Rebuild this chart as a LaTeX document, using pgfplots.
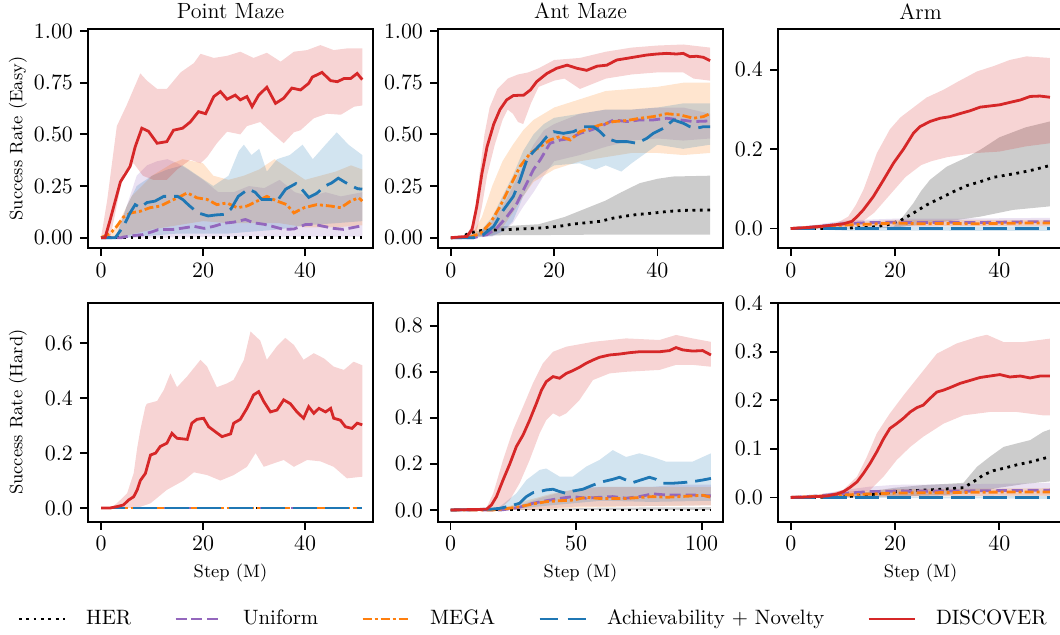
\documentclass[border=0pt]{standalone}
\usepackage{pgfplots}
\pgfplotsset{compat=1.18}
\definecolor{cred}{RGB}{214,39,40}
\definecolor{cblue}{RGB}{31,119,180}
\definecolor{corange}{RGB}{255,127,14}
\definecolor{cpurple}{RGB}{148,103,189}
\pgfplotsset{
  panel/.style={
    scale only axis, width=142.5pt, height=109.5pt,
    anchor=south west,
    axis line style={line width=1pt},
    tick style={black, line width=0.9pt},
    major tick length=4pt,
    tick align=outside,
    xtick pos=bottom, ytick pos=left,
    minor tick num=0,
    every axis title shift=0pt,
    title style={yshift=1.4pt, font=\fontsize{11}{13}\selectfont},
    tick label style={font=\fontsize{11}{13}\selectfont},
    label style={font=\fontsize{9}{11}\selectfont},
    xlabel style={at={(axis description cs:0.5,-0.160)}, anchor=north},
    ylabel style={at={(axis description cs:-0.19,0.5)}, anchor=south},
  },
  yp2/.style={yticklabel style={/pgf/number format/.cd, fixed, fixed zerofill, precision=2}},
  yp1/.style={yticklabel style={/pgf/number format/.cd, fixed, fixed zerofill, precision=1}},
  herline/.style={black, line width=1.4pt, line cap=butt, dash pattern=on 1.4pt off 2.3pt},
  uniline/.style={cpurple, line width=1.4pt, dash pattern=on 5.5pt off 2.4pt},
  megaline/.style={corange, line width=1.4pt, dash pattern=on 4.5pt off 1.5pt on 1.5pt off 1.5pt},
  anline/.style={cblue, line width=1.4pt, dash pattern=on 12pt off 4pt},
  anlegend/.style={cblue, line width=1.4pt, dash pattern=on 9pt off 5pt},
  discline/.style={cred, line width=1.4pt},
  band/.style={fill=#1, fill opacity=0.2, draw=none, forget plot},
}
\begin{document}
\begin{tikzpicture}
\useasboundingbox (0,0) rectangle (530pt,317pt);

% ---------------- Point Maze (Easy)
\begin{axis}[panel, yp2, at={(44pt,193pt)},
  title={Point Maze}, ylabel={Success Rate (Easy)},
  xmin=-2.55, xmax=53.3, ymin=-0.05, ymax=1.01,
  xtick={0,20,40}, ytick={0,0.25,0.5,0.75,1}]
\addplot[band=cpurple] coordinates {(0,0) (3,0.01) (5,0.15) (7,0.3) (9,0.35) (11,0.37) (13,0.38) (15,0.36) (17,0.33) (20,0.28) (23,0.22) (26,0.22) (29,0.25) (32,0.24) (35,0.28) (38,0.22) (41,0.2) (44,0.22) (47,0.2) (51.2,0.22)
 (51.2,0.005) (30,0.005) (10,0) (0,0)};
\addplot[band=corange] coordinates {(0,0) (2,0.02) (4,0.1) (6,0.2) (8,0.25) (10,0.3) (12,0.33) (14,0.36) (16,0.38) (18,0.37) (20,0.36) (22,0.3) (25,0.28) (28,0.3) (31,0.33) (34,0.38) (37,0.33) (40,0.28) (43,0.3) (46,0.32) (49,0.35) (51.2,0.33)
 (51.2,0.06) (46,0.05) (40,0.05) (35,0.07) (30,0.07) (25,0.07) (20,0.08) (15,0.06) (10,0.04) (5,0.01) (2,0) (0,0)};
\addplot[band=cblue] coordinates {(0,0) (3,0.01) (5,0.15) (7,0.25) (10,0.3) (13,0.33) (16,0.35) (19,0.3) (22,0.25) (25,0.3) (27,0.42) (28,0.45) (29.5,0.4) (31,0.43) (32.5,0.32) (34.5,0.38) (37,0.4) (39.5,0.45) (41.5,0.38) (44,0.45) (46.2,0.51) (48.5,0.45) (51.2,0.4)
 (51.2,0.08) (46,0.07) (40,0.06) (35,0.04) (30,0.03) (25,0.02) (20,0.02) (15,0.02) (10,0.01) (5,0) (0,0)};
\addplot[band=cred] coordinates {(0,0) (1.2,0.18) (3.1,0.54) (5,0.64) (7.7,0.795) (9,0.76) (11,0.72) (12.9,0.72) (15.6,0.8) (18.2,0.845) (19.5,0.89) (22.1,0.87) (24.7,0.88) (27.3,0.9) (29.9,0.87) (32.5,0.895) (35.2,0.852) (37.8,0.9) (40.4,0.908) (43,0.932) (45.6,0.908) (48.2,0.916) (51.2,0.916)
 (51.2,0.64) (49.6,0.634) (47,0.595) (44.3,0.6) (41.7,0.578) (39.1,0.52) (37.8,0.51) (35.8,0.457) (33.8,0.5) (31.2,0.56) (28.6,0.54) (27.3,0.5) (24.7,0.513) (22.7,0.457) (20.8,0.39) (19.5,0.36) (17.5,0.377) (14.9,0.33) (12.9,0.28) (10.2,0.28) (8.2,0.3) (6.4,0.36) (4.4,0.312) (2.8,0.12) (1.8,0) (0,0)};
\addplot[herline] coordinates {(0,0) (51.2,0)};
\addplot[uniline] coordinates {(0,0) (4,0) (4.4,0.003) (6.4,0.01) (8.2,0.015) (10.2,0.03) (11.2,0.039) (12.3,0.04) (14.2,0.04) (16.2,0.047) (18.2,0.055) (20.2,0.045) (22.1,0.055) (24.1,0.07) (26,0.075) (28.3,0.088) (29.9,0.072) (31.9,0.065) (32.8,0.06) (35.8,0.04) (37.8,0.042) (40,0.063) (41.7,0.065) (43.6,0.055) (45.6,0.045) (47.5,0.04) (49.6,0.05) (51.2,0.058)};
\addplot[megaline] coordinates {(0,0) (1.8,0.02) (3.1,0.055) (4.4,0.1) (5.9,0.12) (7.7,0.128) (9.6,0.145) (11.6,0.153) (13.6,0.177) (15.6,0.2) (16.9,0.217) (18.8,0.193) (20.8,0.185) (22.7,0.16) (24.7,0.168) (26.7,0.145) (28.6,0.153) (30.6,0.177) (32.5,0.2) (34.5,0.177) (36.4,0.16) (37.8,0.12) (39.8,0.145) (42.3,0.16) (45,0.153) (47,0.145) (48.9,0.177) (50.5,0.193) (51.2,0.177)};
\addplot[anline] coordinates {(0,0) (2.8,0) (4.4,0.055) (5.7,0.12) (6.7,0.16) (7.7,0.145) (9,0.17) (10.6,0.177) (12.3,0.2) (13.8,0.2) (15,0.2) (16,0.185) (17.3,0.155) (19,0.12) (21,0.105) (22.5,0.11) (24.3,0.113) (25.5,0.14) (26.9,0.2) (28.3,0.225) (28.9,0.235) (30.2,0.22) (31.5,0.185) (33.2,0.185) (34.5,0.177) (36.2,0.235) (38.2,0.262) (39.5,0.23) (40.7,0.195) (42.3,0.215) (43.9,0.25) (45.2,0.265) (46.5,0.288) (47.7,0.27) (49.1,0.25) (50.3,0.237) (51.2,0.235)};
\addplot[discline] coordinates {(0,0) (0.8,0) (1.8,0.087) (3.8,0.27) (5.7,0.345) (6.7,0.44) (8,0.53) (9.3,0.515) (11,0.457) (12.9,0.465) (14.2,0.52) (16,0.53) (17.5,0.56) (19.1,0.61) (20.5,0.6) (22.1,0.683) (23.4,0.707) (24.7,0.67) (26.3,0.69) (27.3,0.667) (28.6,0.683) (29.6,0.634) (30.9,0.69) (32.5,0.728) (34.2,0.65) (35.8,0.675) (37.4,0.724) (39.1,0.715) (40.7,0.747) (41.4,0.777) (43.3,0.8) (45,0.76) (46.3,0.755) (47.6,0.77) (48.9,0.77) (50.2,0.795) (51.2,0.765)};
\end{axis}

% ---------------- Ant Maze (Easy)
\begin{axis}[panel, yp2, at={(219pt,193pt)},
  title={Ant Maze},
  xmin=-2.5, xmax=52.7, ymin=-0.05, ymax=1.01,
  xtick={0,20,40}, ytick={0,0.25,0.5,0.75,1}]
\addplot[band=black] coordinates {(0,0) (3,0.01) (6,0.04) (10,0.055) (17,0.065) (22,0.1) (26,0.14) (30,0.18) (33,0.22) (36.6,0.264) (40,0.285) (43,0.296) (50.2,0.3)
 (50.2,0.015) (30,0.015) (20,0.013) (10,0.012) (5,0.008) (0,0)};
\addplot[band=cpurple] coordinates {(0,0) (4,0.005) (6,0.03) (8,0.08) (10,0.15) (12,0.25) (14,0.35) (16,0.45) (18,0.52) (20,0.55) (25,0.6) (30,0.62) (35,0.62) (40,0.63) (45,0.63) (50.2,0.6)
 (50.2,0.48) (45,0.47) (40,0.48) (35,0.47) (30,0.44) (25,0.4) (20,0.37) (18,0.3) (16,0.22) (14,0.15) (12,0.07) (10,0.03) (8,0.005) (0,0)};
\addplot[band=corange] coordinates {(0,0) (3,0.002) (4,0.01) (6,0.1) (8,0.25) (10,0.37) (12,0.45) (14,0.52) (16,0.57) (18,0.6) (20,0.63) (25,0.67) (30,0.71) (35,0.72) (40,0.73) (45,0.75) (50.2,0.75)
 (50.2,0.41) (45,0.4) (40,0.41) (35,0.41) (30,0.39) (25,0.37) (20,0.33) (18,0.3) (16,0.27) (14,0.2) (12,0.12) (10,0.05) (8,0.02) (5,0) (0,0)};
\addplot[band=cblue] coordinates {(0,0) (5,0.01) (8,0.1) (10,0.2) (12,0.3) (14,0.42) (16,0.5) (18,0.55) (20,0.58) (25,0.6) (30,0.62) (35,0.62) (40,0.63) (45,0.65) (50.2,0.65)
 (50.2,0.45) (45,0.43) (40,0.45) (35,0.36) (33,0.32) (30,0.35) (28,0.33) (25,0.36) (20,0.35) (18,0.32) (16,0.28) (14,0.2) (12,0.08) (10,0.03) (8,0.01) (5,0) (0,0)};
\addplot[band=cred] coordinates {(0,0) (3,0.01) (4.5,0.08) (5.5,0.3) (6.5,0.5) (7.5,0.63) (9,0.72) (11,0.77) (13,0.79) (15,0.8) (17,0.82) (20,0.86) (25,0.87) (30,0.9) (35,0.92) (40,0.93) (45,0.935) (50.2,0.92)
 (50.2,0.76) (47,0.77) (45,0.8) (40,0.8) (35,0.79) (30,0.77) (27,0.74) (25,0.72) (22,0.77) (20,0.76) (17,0.73) (15.5,0.65) (14,0.55) (13,0.56) (12,0.6) (11,0.62) (10,0.57) (8.5,0.45) (7,0.3) (6,0.15) (5,0.03) (3,0) (0,0)};
\addplot[herline] coordinates {(0,0) (2,0.002) (3.6,0.023) (6,0.035) (10.8,0.039) (17.3,0.047) (21,0.055) (23.7,0.066) (28.9,0.079) (31.5,0.095) (33.4,0.103) (36,0.112) (39.2,0.119) (42,0.127) (45,0.132) (50.2,0.134)};
\addplot[uniline] coordinates {(0,0) (4.4,0) (7,0.015) (8.9,0.047) (10.8,0.1) (12.8,0.167) (14.7,0.264) (16,0.33) (17.3,0.377) (19.2,0.457) (21.2,0.473) (23.1,0.48) (25,0.505) (27,0.52) (28.9,0.537) (31.5,0.57) (34.1,0.562) (36.6,0.57) (39.2,0.57) (41.8,0.578) (44.4,0.57) (47,0.562) (50.2,0.565)};
\addplot[megaline] coordinates {(0,0) (3.7,0.003) (5.7,0.02) (7.6,0.07) (9.5,0.15) (11.5,0.25) (13.4,0.345) (15.4,0.41) (17.3,0.44) (19.2,0.473) (21.2,0.49) (23.1,0.473) (25,0.513) (27,0.53) (28.9,0.546) (31.5,0.562) (34.1,0.567) (36.6,0.578) (39.2,0.586) (41.8,0.6) (44.4,0.594) (47,0.578) (48.9,0.586) (50.2,0.6)};
\addplot[anline] coordinates {(0,0) (4.4,0) (6.3,0.015) (8.3,0.055) (10.2,0.135) (12.1,0.2) (13.4,0.28) (14.7,0.377) (16,0.417) (17.3,0.45) (18.6,0.49) (19.9,0.513) (21.8,0.505) (23.7,0.513) (25.7,0.537) (27.6,0.537) (28.9,0.513) (30.2,0.48) (32.1,0.465) (34.1,0.465) (36,0.457) (37.9,0.48) (39.2,0.505) (41.2,0.53) (43.1,0.57) (45,0.554) (46.3,0.537) (47.6,0.53) (48.9,0.537) (50.2,0.537)};
\addplot[discline] coordinates {(0,0) (3.1,0.006) (4.1,0.04) (5,0.15) (6,0.31) (7,0.44) (8.3,0.55) (9.5,0.62) (10.8,0.667) (12.1,0.688) (14.1,0.69) (15.4,0.715) (16.6,0.755) (18.6,0.795) (20.5,0.82) (22.5,0.835) (24.4,0.82) (26.3,0.81) (28.3,0.83) (30.2,0.835) (32.1,0.86) (34.1,0.868) (36,0.876) (37.9,0.884) (39.9,0.889) (41.8,0.892) (43.7,0.889) (45,0.892) (46.3,0.876) (47.6,0.878) (48.9,0.873) (50.2,0.857)};
\end{axis}

% ---------------- Arm (Easy)
\begin{axis}[panel, yp1, at={(389pt,193pt)},
  title={Arm},
  xmin=-2.45, xmax=52.2, ymin=-0.049, ymax=0.503,
  xtick={0,20,40}, ytick={0,0.2,0.4}]
\addplot[band=black] coordinates {(0,0) (15,0.001) (19.7,0.005) (21.5,0.03) (23.5,0.064) (25,0.095) (26.7,0.123) (29.9,0.156) (33.8,0.18) (36.5,0.2) (40,0.23) (45,0.255) (49.7,0.27)
 (49.7,0.056) (42.6,0.047) (36.3,0.03) (29.9,0.018) (25,0.01) (20,0.003) (15,0) (0,0)};
\addplot[band=cblue] coordinates {(0,0) (10,0.005) (49.7,0.006) (49.7,-0.006) (10,-0.005) (0,0)};
\addplot[band=cpurple] coordinates {(0,0) (10,0.02) (20,0.025) (30,0.025) (40,0.026) (49.7,0.027) (49.7,0.007) (30,0.006) (10,0.004) (0,0)};
\addplot[band=corange] coordinates {(0,0) (10,0.015) (20,0.022) (49.7,0.022) (49.7,0.006) (20,0.006) (10,0.003) (0,0)};
\addplot[band=cred] coordinates {(0,0) (5,0.004) (9,0.015) (11,0.03) (12.5,0.06) (14,0.1) (16.5,0.19) (19,0.25) (21,0.28) (23,0.3) (26,0.33) (29.3,0.35) (32,0.37) (35.7,0.396) (39,0.41) (42,0.425) (45.2,0.434) (49.7,0.43)
 (49.7,0.215) (45,0.207) (40,0.194) (35,0.19) (30,0.18) (27,0.17) (25,0.16) (22,0.13) (20,0.1) (18,0.07) (16,0.04) (14,0.02) (12,0.01) (9,0.005) (5,0.002) (0,0)};
\addplot[herline] coordinates {(0,0) (10,0) (12,0.002) (15.2,0.003) (18.4,0.009) (21,0.02) (23.5,0.039) (26.1,0.06) (28.6,0.076) (31.2,0.093) (33.7,0.108) (36.3,0.118) (38.8,0.129) (41.4,0.135) (44,0.141) (46.5,0.148) (49.7,0.159)};
\addplot[uniline] coordinates {(0,0) (5,0.005) (10,0.012) (15,0.015) (20,0.016) (25,0.015) (30,0.016) (35,0.015) (40,0.016) (45,0.017) (49.7,0.017)};
\addplot[megaline] coordinates {(0,0) (5,0.004) (10,0.009) (15,0.011) (20,0.014) (25,0.012) (30,0.013) (35,0.012) (40,0.013) (45,0.014) (49.7,0.014)};
\addplot[anline] coordinates {(0,0) (49.7,0)};
\addplot[discline] coordinates {(0,0) (3.7,0.003) (6.9,0.007) (10.1,0.012) (11.7,0.018) (12.7,0.03) (13.9,0.047) (15.8,0.08) (17.8,0.123) (19.7,0.165) (21.6,0.2) (23.5,0.24) (24.8,0.257) (26.7,0.27) (28.6,0.278) (30.5,0.282) (32.5,0.29) (34.4,0.297) (36.3,0.306) (38.2,0.309) (40.1,0.312) (42,0.318) (44,0.324) (45.9,0.333) (47.8,0.334) (49.7,0.331)};
\end{axis}

% ---------------- Point Maze (Hard)
\begin{axis}[panel, yp1, at={(44pt,56.15pt)},
  xlabel={Step (M)}, ylabel={Success Rate (Hard)},
  xmin=-2.55, xmax=53.3, ymin=-0.05, ymax=0.748,
  xtick={0,20,40}, ytick={0,0.2,0.4,0.6}]
\addplot[band=cred] coordinates {(0,0) (2,0.002) (3.1,0.017) (5.1,0.053) (6.4,0.126) (7.1,0.22) (7.7,0.284) (8.7,0.37) (9,0.38) (11,0.39) (12.3,0.43) (13.6,0.49) (14.9,0.44) (16.9,0.48) (19.5,0.54) (20.8,0.515) (22.7,0.44) (24.7,0.454) (26,0.467) (28,0.54) (29.3,0.643) (31.2,0.61) (32.5,0.54) (34.5,0.59) (36.1,0.62) (37.8,0.594) (39.7,0.54) (41.7,0.564) (43.7,0.545) (45.6,0.515) (47.6,0.503) (49.5,0.533) (51.2,0.52)
 (51.2,0.114) (48.2,0.108) (45.6,0.15) (43,0.17) (40.4,0.175) (37.8,0.15) (35.8,0.175) (33.9,0.163) (31.9,0.15) (30.3,0.2) (28.6,0.15) (26,0.12) (23.4,0.1) (20.8,0.12) (18.2,0.13) (16.2,0.1) (12.9,0.066) (9.7,0.017) (7,0) (0,0)};
\addplot[herline] coordinates {(0,0) (51.2,0)};
\addplot[uniline] coordinates {(0,0) (51.2,0)};
\addplot[megaline] coordinates {(0,0) (51.2,0)};
\addplot[anline] coordinates {(0,0) (51.2,0)};
\addplot[discline] coordinates {(0,0) (1.8,0) (3.1,0.005) (4.4,0.011) (5.4,0.029) (6.4,0.041) (7.1,0.066) (7.7,0.1) (8.7,0.126) (9.7,0.193) (10.7,0.2) (11.6,0.224) (12.9,0.236) (13.9,0.272) (14.9,0.254) (16.9,0.25) (17.8,0.309) (18.8,0.323) (20.1,0.327) (21.1,0.296) (22.4,0.278) (23.7,0.26) (25.4,0.27) (26,0.309) (27.3,0.323) (28.6,0.363) (29.9,0.412) (30.9,0.424) (31.9,0.388) (33.2,0.35) (34.5,0.357) (35.8,0.394) (37.1,0.38) (38.4,0.35) (39.7,0.327) (40.7,0.369) (41.7,0.345) (42.7,0.363) (44,0.35) (45,0.363) (45.6,0.327) (46.9,0.32) (47.9,0.296) (49.2,0.29) (50.2,0.309) (51.2,0.303)};
\end{axis}

% ---------------- Ant Maze (Hard)
\begin{axis}[panel, yp1, at={(219pt,56.15pt)},
  xlabel={Step (M)},
  xmin=-5, xmax=108.5, ymin=-0.051, ymax=0.9,
  xtick={0,50,100}, ytick={0,0.2,0.4,0.6,0.8},
  legend columns=5,
  legend style={draw=none, fill=none, at={(axis description cs:0.337,-0.444)}, anchor=center,
    font=\fontsize{10.4}{12.5}\selectfont,
    /tikz/every odd column/.append style={column sep=8pt},
    /tikz/every even column/.append style={column sep=19.5pt}},
  legend cell align=left,
  legend image code/.code={\draw[#1] (0pt,0pt) -- (23pt,0pt);}]
\addlegendimage{herline}
\addlegendimage{uniline}
\addlegendimage{megaline}
\addlegendimage{anlegend}
\addlegendimage{discline}
\addplot[band=black] coordinates {(0,0) (30,0.003) (60,0.01) (103.7,0.012) (103.7,0) (0,0)};
\addplot[band=cpurple] coordinates {(0,0) (20,0.002) (25,0.01) (35,0.05) (45,0.08) (55,0.1) (65,0.1) (80,0.1) (90,0.11) (103.7,0.11) (103.7,0.02) (50,0.015) (30,0) (0,0)};
\addplot[band=corange] coordinates {(0,0) (15,0.001) (20,0.005) (30,0.04) (40,0.07) (50,0.09) (60,0.1) (70,0.1) (80,0.1) (90,0.1) (103.7,0.1) (103.7,0.02) (70,0.015) (50,0.01) (30,0) (0,0)};
\addplot[band=cblue] coordinates {(0,0) (15,0) (19.6,0.014) (26.2,0.072) (30.2,0.13) (35.5,0.174) (38.1,0.18) (43.4,0.145) (48.7,0.145) (54,0.188) (59.3,0.217) (64.6,0.26) (69.9,0.23) (75.2,0.246) (80.5,0.23) (85.8,0.21) (91.2,0.21) (96.4,0.21) (103.7,0.246)
 (103.7,0.04) (80,0.035) (60,0.04) (45,0.025) (35,0.015) (25,0.003) (15,0) (0,0)};
\addplot[band=cred] coordinates {(0,0) (14,0.002) (17,0.072) (20.9,0.217) (24.9,0.347) (28.9,0.449) (32.8,0.55) (36.8,0.637) (40.8,0.687) (46.1,0.709) (56.7,0.73) (69.9,0.745) (83.2,0.738) (89.8,0.76) (96.4,0.745) (103.7,0.73)
 (103.7,0.622) (96.4,0.63) (89.8,0.63) (83.2,0.608) (69.9,0.6) (63.3,0.593) (56.7,0.564) (51.4,0.478) (46.1,0.42) (43.4,0.405) (40.8,0.42) (38.1,0.39) (35.5,0.333) (31.5,0.217) (27.5,0.116) (23.6,0.043) (19.6,0.003) (14,0) (0,0)};
\addplot[herline] coordinates {(0,0) (103.7,0)};
\addplot[uniline] coordinates {(0,0) (20,0) (22.3,0.003) (27.5,0.012) (32.8,0.029) (38.1,0.04) (43.4,0.05) (48.7,0.058) (54,0.051) (59.3,0.055) (64.6,0.058) (69.9,0.051) (75.2,0.058) (80.5,0.07) (85.8,0.065) (91.2,0.065) (96.4,0.065) (103.7,0.061)};
\addplot[megaline] coordinates {(0,0) (17,0) (22.3,0.006) (27.5,0.014) (32.8,0.026) (38.1,0.036) (43.4,0.04) (48.7,0.043) (54,0.055) (59.3,0.05) (64.6,0.05) (69.9,0.05) (75.2,0.054) (80.5,0.058) (85.8,0.055) (91.2,0.058) (96.4,0.061) (100.4,0.064) (103.7,0.055)};
\addplot[anline] coordinates {(0,0) (15.6,0.003) (19.6,0.007) (23.6,0.017) (27.5,0.029) (30.2,0.058) (32.8,0.075) (35.5,0.08) (38.1,0.087) (40.8,0.09) (43.4,0.08) (46.1,0.072) (48.7,0.082) (52.7,0.09) (56.7,0.108) (60.7,0.123) (64.6,0.133) (67.3,0.142) (69.9,0.13) (72.6,0.119) (76.6,0.133) (79.2,0.142) (81.9,0.133) (84.5,0.116) (88.5,0.116) (92.5,0.119) (96.4,0.123) (100.4,0.13) (103.7,0.137)};
\addplot[discline] coordinates {(0,0) (14.3,0.003) (16.3,0.022) (18.3,0.058) (20.9,0.13) (23.6,0.2) (26.2,0.275) (28.9,0.326) (31.5,0.39) (34.2,0.463) (36.2,0.52) (38.1,0.557) (40.8,0.579) (43.4,0.572) (46.1,0.593) (48.7,0.605) (51.4,0.62) (54,0.637) (56.7,0.651) (59.3,0.663) (63.3,0.673) (67.3,0.677) (71.3,0.683) (75.2,0.687) (79.2,0.687) (83.2,0.687) (87.2,0.692) (89.8,0.705) (92.5,0.695) (96.4,0.69) (100.4,0.692) (103.7,0.673)};
\legend{HER, Uniform, MEGA, Achievability + Novelty, DISCOVER}
\end{axis}

% ---------------- Arm (Hard)
\begin{axis}[panel, yp1, at={(389pt,56.15pt)},
  xlabel={Step (M)},
  xmin=-2.45, xmax=52.2, ymin=-0.05, ymax=0.401,
  xtick={0,20,40}, ytick={0,0.1,0.2,0.3,0.4}]
\addplot[band=black] coordinates {(0,0) (10,0.003) (15,0.012) (20,0.02) (25,0.025) (30,0.028) (33.1,0.03) (35.7,0.063) (38.2,0.084) (40.8,0.104) (43.3,0.111) (45.9,0.118) (48.4,0.135) (49.7,0.14)
 (49.7,0.033) (45,0.028) (40,0.02) (35,0.01) (30,0.005) (20,0.002) (10,0) (0,0)};
\addplot[band=cblue] coordinates {(0,0) (49.7,0.003) (49.7,-0.003) (0,0)};
\addplot[band=cpurple] coordinates {(0,0) (5,0.005) (10,0.015) (15,0.022) (20,0.026) (30,0.027) (40,0.028) (49.7,0.03) (49.7,0.004) (30,0.003) (10,0.001) (0,0)};
\addplot[band=corange] coordinates {(0,0) (10,0.012) (20,0.017) (49.7,0.019) (49.7,0.003) (20,0.002) (0,0)};
\addplot[band=cred] coordinates {(0,0) (4,0.002) (7,0.006) (10.1,0.016) (12.7,0.043) (14.6,0.084) (16.5,0.132) (19,0.173) (21.6,0.21) (24.2,0.245) (28,0.296) (31.8,0.317) (35.6,0.33) (37.6,0.335) (40.8,0.32) (44.6,0.32) (49.7,0.327)
 (49.7,0.169) (48.4,0.169) (43.3,0.176) (38.2,0.176) (33.1,0.169) (29.3,0.152) (25.4,0.125) (22.9,0.104) (20.3,0.077) (17.8,0.043) (15.2,0.015) (12,0.006) (8,0.002) (0,0)};
\addplot[herline] coordinates {(0,0) (3.7,0) (10.1,0.001) (16.5,0.007) (20.3,0.012) (25.4,0.015) (29.3,0.017) (33.1,0.02) (35,0.032) (36.9,0.046) (38.8,0.055) (40.8,0.06) (43.3,0.067) (45.9,0.073) (48.4,0.08) (49.7,0.084)};
\addplot[uniline] coordinates {(0,0) (5,0.003) (10,0.008) (15,0.012) (20,0.013) (30,0.013) (40,0.014) (49.7,0.015)};
\addplot[megaline] coordinates {(0,0) (5,0.002) (10,0.005) (15,0.007) (20,0.009) (30,0.01) (40,0.011) (49.7,0.011)};
\addplot[anline] coordinates {(0,0) (49.7,0)};
\addplot[discline] coordinates {(0,0) (3.7,0.001) (6.9,0.003) (8.8,0.007) (10.1,0.012) (11.4,0.021) (12.7,0.032) (13.9,0.049) (15.2,0.07) (16.5,0.094) (17.8,0.121) (19,0.142) (20.3,0.152) (21.6,0.163) (22.9,0.176) (24.2,0.185) (25.4,0.19) (26.7,0.204) (28,0.217) (29.3,0.221) (30.5,0.226) (32.5,0.235) (34.4,0.241) (36.3,0.247) (38.2,0.25) (40.1,0.253) (42,0.248) (44,0.25) (45.9,0.246) (47.8,0.25) (49.7,0.25)};
\end{axis}
\end{tikzpicture}
\end{document}
